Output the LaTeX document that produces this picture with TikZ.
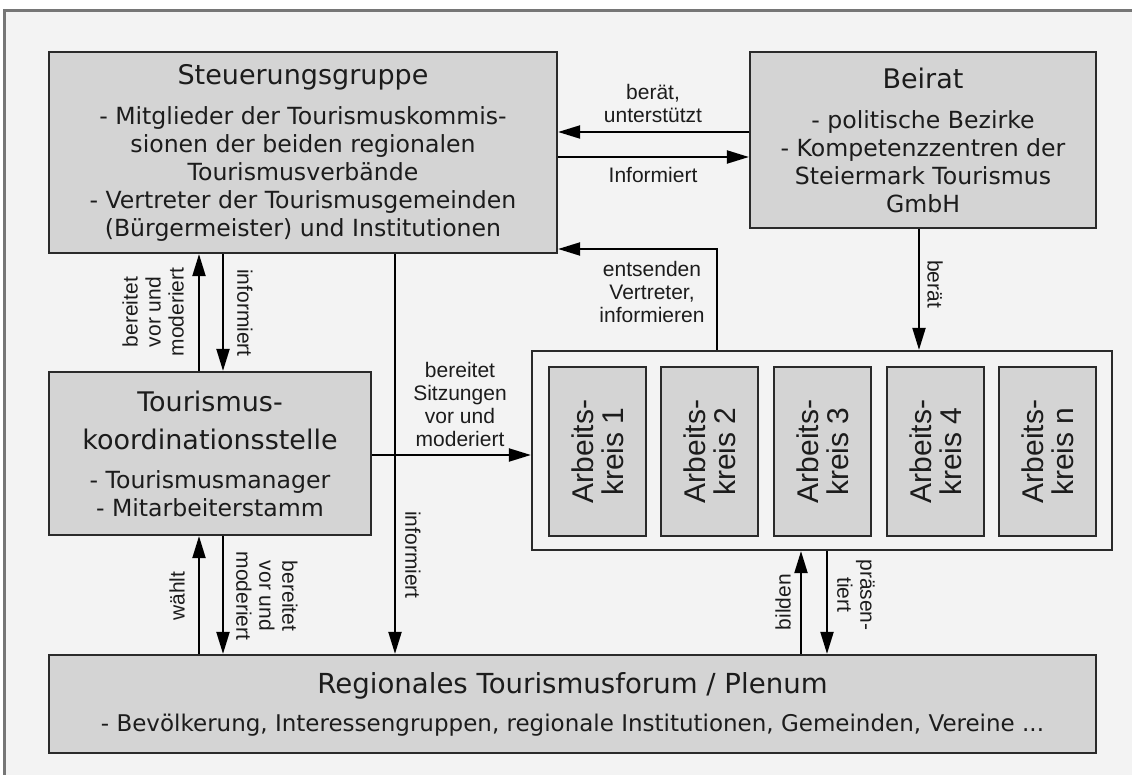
\documentclass[tikz,border=0pt]{standalone}
\usepackage{fontspec}
\setmainfont{DejaVu Sans}
\newfontfamily\lblfamily{Liberation Sans}
\usetikzlibrary{arrows.meta}
\definecolor{panel}{HTML}{F3F3F3}
\definecolor{boxfill}{HTML}{D4D4D4}
\definecolor{boxline}{HTML}{2A2A2A}
\definecolor{frameline}{HTML}{767676}
\definecolor{ink}{HTML}{1C1C1C}
\newcommand\bodyfnt{\fontsize{23.6}{28}\selectfont}
\newcommand\ttlfnt{\fontsize{27}{28}\selectfont}
\newcommand\plenumfnt{\fontsize{27.6}{28}\selectfont}
\newcommand\subfnt{\fontsize{23}{28}\selectfont}
\newcommand\lblfnt{\lblfamily\fontsize{21}{23}\selectfont}
\newcommand\akfnt{\lblfamily\fontsize{30}{30}\selectfont}
\begin{document}
\begin{tikzpicture}[x=1pt,y=-1pt,
  box/.style={draw=boxline, line width=2.2pt, fill=boxfill, inner sep=0pt,
    align=center, text=ink, font=\bodyfnt},
  akbox/.style={draw=boxline, line width=2.2pt, fill=boxfill, inner sep=0pt,
    align=center, text=ink, font=\akfnt, rotate=90,
    minimum width=169pt, minimum height=97pt},
  frame/.style={draw=boxline, line width=2.2pt, fill=panel, inner sep=0pt},
  arr/.style={draw=black, line width=2pt,
    -{Triangle[length=22pt,width=13pt]}},
  lbl/.style={font=\lblfnt, text=ink, align=center, inner sep=0pt}]

% canvas and outer frame
\useasboundingbox (0,0) rectangle (1132,775);
\fill[white] (0,0) rectangle (1132,775);
\fill[panel] (4,11) rectangle (1140,790);
\draw[frameline, line width=3pt] (4,790) -- (4,11) -- (1140,11);

% main boxes
\node[box, minimum width=508pt, minimum height=201pt] (S) at (303,152.5)
  {{\ttlfnt Steuerungsgruppe}\\[12pt]
   - Mitglieder der Tourismuskommis-\\
   sionen der beiden regionalen\\
   Tourismusverbände\\
   - Vertreter der Tourismusgemeinden\\
   (Bürgermeister) und Institutionen};

\node[box, minimum width=346pt, minimum height=176pt] (B) at (923,140)
  {{\ttlfnt Beirat}\\[12pt]
   - politische Bezirke\\
   - Kompetenzzentren der\\
   Steiermark Tourismus\\
   GmbH};

\node[box, minimum width=322pt, minimum height=163pt] (T) at (210,453.5)
  {{\ttlfnt Tourismus-}\\[10pt]
   {\ttlfnt koordinationsstelle}\\[11pt]
   - Tourismusmanager\\
   - Mitarbeiterstamm};

\node[box, minimum width=1047pt, minimum height=98pt] (P) at (572.5,704)
  {{\plenumfnt Regionales Tourismusforum / Plenum}\\[10pt]
   {\subfnt - Bevölkerung, Interessengruppen, regionale Institutionen, Gemeinden, Vereine ...}};

% working groups
\node[frame, minimum width=580pt, minimum height=199pt] (C) at (822,450.5) {};
\node[akbox] (A1) at (597.5,451.5) {Arbeits-\\kreis 1};
\node[akbox] (A2) at (709.5,451.5) {Arbeits-\\kreis 2};
\node[akbox] (A3) at (822.5,451.5) {Arbeits-\\kreis 3};
\node[akbox] (A4) at (935.5,451.5) {Arbeits-\\kreis 4};
\node[akbox] (A5) at (1047.5,451.5) {Arbeits-\\kreis n};

% connector rails
\coordinate (yAdv) at (0,132);
\coordinate (yInf) at (0,157);
\coordinate (ySend) at (0,249);
\coordinate (ySes) at (0,455);
\coordinate (xUp) at (199,0);
\coordinate (xDown) at (223,0);
\coordinate (xForum) at (395,0);
\coordinate (xSend) at (717,0);
\coordinate (xAdv) at (919,0);
\coordinate (xForm) at (801,0);
\coordinate (xPres) at (827,0);

% connectors
\draw[arr] (B.west |- yAdv) -- (S.east |- yAdv);
\draw[arr] (S.east |- yInf) -- (B.west |- yInf);
\draw[arr] (C.north -| xSend) |- (S.east |- ySend);
\draw[arr] (B.south -| xAdv) -- (C.north -| xAdv);
\draw[arr] (T.north -| xUp) -- (S.south -| xUp);
\draw[arr] (S.south -| xDown) -- (T.north -| xDown);
\draw[arr] (S.south -| xForum) -- (P.north -| xForum);
\draw[arr] (T.east |- ySes) -- (C.west |- ySes);
\draw[arr] (P.north -| xUp) -- (T.south -| xUp);
\draw[arr] (T.south -| xDown) -- (P.north -| xDown);
\draw[arr] (P.north -| xForm) -- (C.south -| xForm);
\draw[arr] (C.south -| xPres) -- (P.north -| xPres);

% connector labels
\node[lbl] (lAdv) at (653,103) {berät,\\unterstützt};
\node[lbl] (lInf) at (653,175) {Informiert};
\node[lbl] (lSend) at (652,292) {entsenden\\Vertreter,\\informieren};
\node[lbl, rotate=-90] (lAdv2) at (935,284) {berät};
\node[lbl, rotate=90] (lPrep1) at (153,312) {bereitet\\vor und\\moderiert};
\node[lbl, rotate=-90] (lInf1) at (245,313) {informiert};
\node[lbl] (lSes) at (460,404) {bereitet\\Sitzungen\\vor und\\moderiert};
\node[lbl, rotate=-90] (lInf2) at (413,555) {informiert};
\node[lbl, rotate=90] (lElect) at (177,596) {wählt};
\node[lbl, rotate=-90] (lPrep2) at (267,596) {bereitet\\vor und\\moderiert};
\node[lbl, rotate=90] (lForm) at (783,602) {bilden};
\node[lbl, rotate=-90] (lPres) at (856,595) {präsen-\\tiert};
\end{tikzpicture}
\end{document}
